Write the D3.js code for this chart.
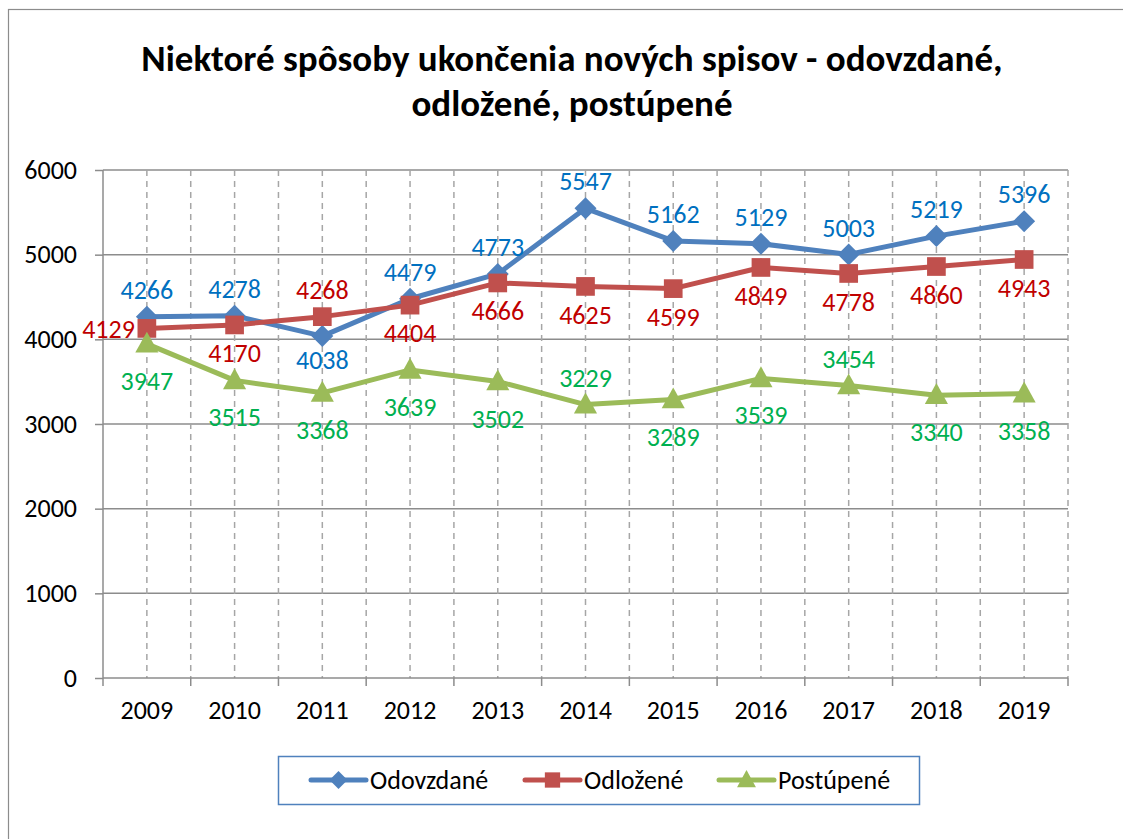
<!DOCTYPE html>
<html>
<head>
<meta charset="utf-8">
<script src="https://cdn.jsdelivr.net/npm/d3@7"></script>
<style>
    body { margin: 0; background: #fff; }
    svg text { font-family: Carlito, Calibri, Lato, "Open Sans", sans-serif; }
</style>
</head>
<body>
<div id="chart"></div>
<script>
// data
const years = ["2009", "2010", "2011", "2012", "2013", "2014", "2015", "2016", "2017", "2018", "2019"];
const odovzdane = [4266, 4278, 4038, 4479, 4773, 5547, 5162, 5129, 5003, 5219, 5396];
const odlozene = [4129, 4170, 4268, 4404, 4666, 4625, 4599, 4849, 4778, 4860, 4943];
const postupene = [3947, 3515, 3368, 3639, 3502, 3229, 3289, 3539, 3454, 3340, 3358];
const yTicks = [0, 1000, 2000, 3000, 4000, 5000, 6000];

// where the data label sits: a = above, b = below, l = left
const odovzdanePos = ["a", "a", "b", "a", "a", "a", "a", "a", "a", "a", "a"];
const odlozenePos = ["l", "b", "a", "b", "b", "b", "b", "b", "b", "b", "b"];
const postupenePos = ["b", "b", "b", "b", "b", "a", "b", "b", "a", "b", "b"];

const series = [
    { name: "Odovzdané", values: odovzdane, pos: odovzdanePos, color: "#4f81bd", label: "#0070c0", marker: "diamond", below: 24 },
    { name: "Odložené", values: odlozene, pos: odlozenePos, color: "#c0504d", label: "#c00000", marker: "square", below: 28 },
    { name: "Postúpené", values: postupene, pos: postupenePos, color: "#9bbb59", label: "#00b050", marker: "triangle", below: 37 }
];

const W = 1123, H = 839;
const plot = { left: 103, right: 1068, top: 170, bottom: 678 };
const fontSize = 26;

const svg = d3.select("#chart").append("svg")
    .attr("width", W)
    .attr("height", H);

// outer chart frame (runs off the right and bottom edge)
svg.append("rect")
    .attr("x", 8.5).attr("y", 9.5)
    .attr("width", W + 20).attr("height", H + 20)
    .attr("fill", "none")
    .attr("stroke", "#8c8c8c")
    .attr("stroke-width", 1.2);

// title
const title = svg.append("text")
    .attr("text-anchor", "middle")
    .attr("font-weight", "bold")
    .attr("font-size", 37)
    .attr("fill", "#000");
title.append("tspan").attr("x", 572).attr("y", 71).text("Niektoré spôsoby ukončenia nových spisov - odovzdané,");
title.append("tspan").attr("x", 572).attr("y", 116).text("odložené, postúpené");

// scales
const x = d3.scaleBand().domain(years).range([plot.left, plot.right]);
const y = d3.scaleLinear().domain([0, 6000]).range([plot.bottom, plot.top]);
const cx = d => x(d) + x.bandwidth() / 2;

const grid = svg.append("g");

// horizontal gridlines
grid.selectAll(".hgrid")
    .data(yTicks.filter(d => d > 0))
    .enter().append("line")
    .attr("x1", plot.left).attr("x2", plot.right)
    .attr("y1", d => y(d)).attr("y2", d => y(d))
    .attr("stroke", "#8c8c8c").attr("stroke-width", 1.5);

// vertical dashed gridlines at band edges and centres
const vLines = [];
years.forEach(d => { vLines.push(cx(d)); vLines.push(x(d) + x.bandwidth()); });
grid.selectAll(".vgrid")
    .data(vLines)
    .enter().append("line")
    .attr("x1", d => d).attr("x2", d => d)
    .attr("y1", plot.top).attr("y2", plot.bottom)
    .attr("stroke", "#a6a6a6").attr("stroke-width", 1.5)
    .attr("stroke-dasharray", "6,5");

// y axis
const yAxis = svg.append("g")
    .attr("transform", `translate(${plot.left},0)`)
    .call(d3.axisLeft(y).tickValues(yTicks).tickSize(8).tickPadding(18).tickFormat(d3.format("d")));
yAxis.select(".domain").attr("stroke", "#8c8c8c").attr("stroke-width", 1.5).attr("d", `M0,${plot.top}V${plot.bottom}`);
yAxis.selectAll(".tick line").attr("stroke", "#8c8c8c").attr("stroke-width", 1.5);
yAxis.selectAll(".tick text").attr("font-size", fontSize).attr("fill", "#000")
    .style("font-family", "Carlito, Calibri, Lato, sans-serif");

// x axis
const xAxis = svg.append("g")
    .attr("transform", `translate(0,${plot.bottom})`)
    .call(d3.axisBottom(x).tickSize(0).tickPadding(23));
xAxis.select(".domain").attr("stroke", "#8c8c8c").attr("stroke-width", 1.5).attr("d", `M${plot.left},0H${plot.right}`);
xAxis.selectAll(".tick text").attr("font-size", fontSize).attr("fill", "#000")
    .style("font-family", "Carlito, Calibri, Lato, sans-serif");
xAxis.selectAll(".edge")
    .data([plot.left].concat(years.map(d => x(d) + x.bandwidth())))
    .enter().append("line")
    .attr("x1", d => d).attr("x2", d => d)
    .attr("y1", 0).attr("y2", 8)
    .attr("stroke", "#8c8c8c").attr("stroke-width", 1.5);

// marker shapes
function markerPath(type, s) {
    if (type === "diamond") return `M0,${-s}L${s},0L0,${s}L${-s},0Z`;
    if (type === "square") return `M${-s * 0.85},${-s * 0.85}H${s * 0.85}V${s * 0.85}H${-s * 0.85}Z`;
    return `M0,${-s * 1.1}L${s * 1.05},${s * 0.8}H${-s * 1.05}Z`;
}

const line = d3.line()
    .x((d, i) => cx(years[i]))
    .y(d => y(d));

const seriesG = svg.selectAll(".series")
    .data(series)
    .enter().append("g")
    .attr("class", "series");

seriesG.append("path")
    .attr("d", d => line(d.values))
    .attr("fill", "none")
    .attr("stroke", d => d.color)
    .attr("stroke-width", 5)
    .attr("stroke-linejoin", "round");

seriesG.each(function (s) {
    d3.select(this).selectAll(".mark")
        .data(s.values)
        .enter().append("path")
        .attr("transform", (d, i) => `translate(${cx(years[i])},${y(d)})`)
        .attr("d", markerPath(s.marker, 11))
        .attr("fill", s.color);
});

// data labels
seriesG.each(function (s) {
    d3.select(this).selectAll(".lbl")
        .data(s.values)
        .enter().append("text")
        .attr("x", (d, i) => s.pos[i] === "l" ? cx(years[i]) - 12 : cx(years[i]))
        .attr("y", (d, i) => y(d) + (s.pos[i] === "a" ? -27 : s.pos[i] === "b" ? s.below : 0))
        .attr("dy", "0.35em")
        .attr("text-anchor", (d, i) => s.pos[i] === "l" ? "end" : "middle")
        .attr("font-size", fontSize)
        .attr("fill", s.label)
        .text(d => d);
});

// legend
const legend = svg.append("g");
legend.append("rect")
    .attr("x", 278.5).attr("y", 756.5)
    .attr("width", 641).attr("height", 48)
    .attr("fill", "#fff")
    .attr("stroke", "#4f81bd")
    .attr("stroke-width", 1.5);

const legendX = [311, 525, 719];
const items = legend.selectAll(".item")
    .data(series)
    .enter().append("g")
    .attr("transform", (d, i) => `translate(${legendX[i]},780)`);
items.append("line")
    .attr("x1", 0).attr("x2", 55)
    .attr("stroke", d => d.color)
    .attr("stroke-width", 5)
    .attr("stroke-linecap", "round");
items.append("path")
    .attr("transform", "translate(27.5,0)")
    .attr("d", d => markerPath(d.marker, 9))
    .attr("fill", d => d.color);
items.append("text")
    .attr("x", 59)
    .attr("dy", "0.35em")
    .attr("font-size", fontSize)
    .attr("fill", "#000")
    .text(d => d.name);
</script>
</body>
</html>
